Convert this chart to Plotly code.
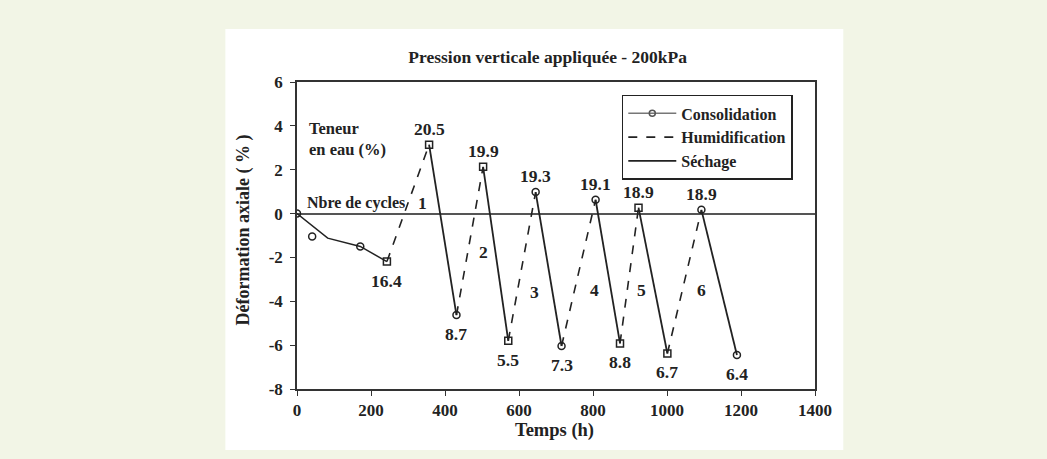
import plotly.graph_objects as go

# consolidation phase (before the first wetting)
consol_time = [0, 83, 171, 243]
consol_strain = [0, -1.12, -1.50, -2.19]
consol_mark_time = [0, 41, 171]
consol_mark_strain = [0, -1.05, -1.50]

# end of each wetting (peaks) and each drying (troughs)
peak_time = [357, 503, 645, 807, 923, 1093]
peak_strain = [3.14, 2.13, 0.98, 0.63, 0.27, 0.17]
peak_water = ["20.5", "19.9", "19.3", "19.1", "18.9", "18.9"]
peak_symbol = ["square-open", "square-open", "circle-open", "circle-open", "square-open", "circle-open"]

trough_time = [243, 431, 571, 715, 873, 1001, 1189]
trough_strain = [-2.19, -4.63, -5.80, -6.04, -5.92, -6.38, -6.45]
trough_water = ["16.4", "8.7", "5.5", "7.3", "8.8", "6.7", "6.4"]
trough_symbol = ["square-open", "circle-open", "square-open", "circle-open",
                 "square-open", "square-open", "circle-open"]

cycle_names = ["1", "2", "3", "4", "5", "6"]
cycle_time = [340, 503, 643, 805, 932, 1094]
cycle_strain = [0.5, -1.73, -3.56, -3.5, -3.5, -3.5]

x_ticks = [0, 200, 400, 600, 800, 1000, 1200, 1400]
y_ticks = [-8, -6, -4, -2, 0, 2, 4, 6]

INK = "#222222"
SERIF = "Liberation Serif, Times New Roman, serif"
BG = "#f2f5e6"

humid_x, humid_y, sech_x, sech_y = [], [], [], []
for i in range(len(peak_time)):
    humid_x += [trough_time[i], peak_time[i], None]
    humid_y += [trough_strain[i], peak_strain[i], None]
    sech_x += [peak_time[i], trough_time[i + 1], None]
    sech_y += [peak_strain[i], trough_strain[i + 1], None]

fig = go.Figure()
fig.add_trace(go.Scatter(
    x=consol_time, y=consol_strain, mode="lines", name="Consolidation",
    line={"color": INK, "width": 1.5}, showlegend=False,
))
fig.add_trace(go.Scatter(
    x=consol_mark_time, y=consol_mark_strain, mode="markers", name="Consolidation",
    marker={"symbol": "circle-open", "size": 7, "color": INK, "line": {"width": 1.5}},
    showlegend=False,
))
# legend sample for consolidation (line + marker)
fig.add_trace(go.Scatter(
    x=[None], y=[None], mode="lines+markers", name="Consolidation",
    line={"color": "#777777", "width": 1.5},
    marker={"symbol": "circle-open", "size": 6, "color": "#555555", "line": {"width": 1.5}},
))
fig.add_trace(go.Scatter(
    x=humid_x, y=humid_y, mode="lines", name="Humidification",
    line={"color": INK, "width": 1.6, "dash": "dash"},
))
fig.add_trace(go.Scatter(
    x=sech_x, y=sech_y, mode="lines", name="Séchage",
    line={"color": INK, "width": 1.8},
))
fig.add_trace(go.Scatter(
    x=peak_time + trough_time, y=peak_strain + trough_strain, mode="markers",
    marker={"symbol": peak_symbol + trough_symbol, "size": 7, "color": INK,
            "line": {"width": 1.5}},
    showlegend=False,
))


def bold(size):
    return {"family": SERIF, "size": size, "color": INK, "weight": "bold"}


for t, s, w in zip(peak_time, peak_strain, peak_water):
    fig.add_annotation(x=t, y=s, text=f"<b>{w}</b>", showarrow=False, yshift=16, font=bold(17.5))
for t, s, w in zip(trough_time, trough_strain, trough_water):
    fig.add_annotation(x=t, y=s, text=f"<b>{w}</b>", showarrow=False, yshift=-19, font=bold(17.5))
for t, s, c in zip(cycle_time, cycle_strain, cycle_names):
    fig.add_annotation(x=t, y=s, text=f"<b>{c}</b>", showarrow=False, font=bold(17.5))

fig.add_annotation(x=26, y=3.4, text="<b>Teneur<br>en eau (%)</b>", showarrow=False,
                   xanchor="left", align="left", font=bold(16.5))
fig.add_annotation(x=22, y=0.5, text="<b>Nbre de cycles</b>", showarrow=False,
                   xanchor="left", font=bold(16))

fig.add_annotation(xref="paper", yref="paper", x=-0.1015, y=0.518,
                   xanchor="center", yanchor="middle",
                   text="<b>Déformation axiale ( % )</b>",
                   textangle=-90, showarrow=False, font=bold(18))
fig.add_annotation(xref="paper", yref="paper", x=0.498, y=-0.1336,
                   xanchor="center", yanchor="middle", text="<b>Temps (h)</b>",
                   showarrow=False, font=bold(18.5))

# white panel behind the chart
fig.add_shape(type="rect", xref="paper", yref="paper", x0=-0.1383, x1=1.0546,
              y0=-0.1987, y1=1.1726, fillcolor="white", line={"width": 0}, layer="below")

axis_common = dict(
    showline=True, mirror=True, linecolor="#333333", linewidth=1.5,
    ticks="outside", ticklen=5, tickcolor="#333333", showgrid=False,
    tickfont=bold(17),
)
fig.update_xaxes(range=[0, 1400], tickvals=x_ticks, ticktext=[f"<b>{v}</b>" for v in x_ticks],
                 zeroline=False, **axis_common)
fig.update_yaxes(range=[-8, 6], tickvals=y_ticks, ticktext=[f"<b>{v}</b>" for v in y_ticks],
                 zeroline=True, zerolinecolor="#555555", zerolinewidth=1.5,
                 ticklabelstandoff=4, **axis_common)

fig.update_layout(
    width=1047, height=459,
    margin={"l": 297, "r": 232, "t": 82, "b": 70},
    paper_bgcolor=BG, plot_bgcolor="white",
    title={"text": "<b>Pression verticale appliquée - 200kPa</b>", "x": 0.523, "xanchor": "center",
           "y": 0.876, "yanchor": "middle", "font": bold(17.5)},
    legend={"x": 0.627, "y": 0.958, "xanchor": "left", "yanchor": "top",
            "bgcolor": "white", "bordercolor": INK, "borderwidth": 1.5,
            "font": bold(16), "tracegroupgap": 0, "itemwidth": 48},
    showlegend=True,
)

fig.write_html("out.html", config={"displayModeBar": False},
               post_script="document.body.style.margin='0';")
